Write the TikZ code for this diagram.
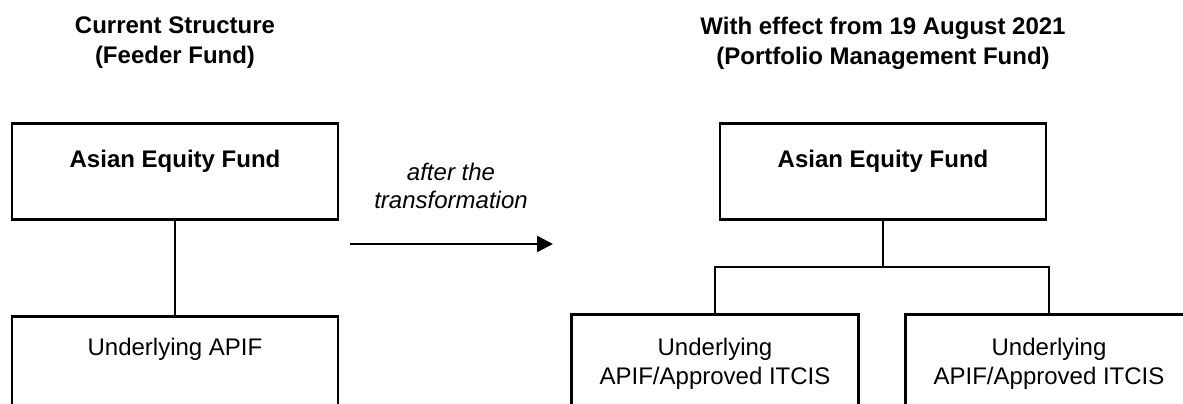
\documentclass[tikz,border=0pt]{standalone}
\usepackage{fontspec}
\setmainfont{Liberation Sans}
\usetikzlibrary{arrows.meta}
\begin{document}
\begin{tikzpicture}[x=1pt,y=-1pt,
  box/.style={draw, line width=2.6pt, inner sep=0pt, minimum width=326pt},
  lbl/.style={font=\fontsize{24}{29}\selectfont, align=center, inner sep=0pt},
  head/.style={font=\fontsize{24}{30}\selectfont\bfseries, align=center, inner sep=0pt},
  link/.style={line width=2.6pt},
  tiny/.style={inner sep=0pt, minimum size=0pt}]
\useasboundingbox (0,0) rectangle (1183,404);
\clip (0,0) rectangle (1183,404);

% column headings
\node[head, anchor=north] (hl) at (175,17) {Current Structure\\(Feeder Fund)};
\node[head, anchor=north] (hr) at (883,17) {With effect from 19 August 2021\\(Portfolio Management Fund)};

% current structure
\node[box, minimum height=96pt, anchor=north] (aefl) at (175,122) {};
\node[lbl, font=\fontsize{24}{29}\selectfont\bfseries, anchor=north] (aeflt) at (175,150) {Asian Equity Fund};
\node[box, minimum height=140pt, anchor=north] (apif) at (175,315) {};
\node[lbl, anchor=north] (apift) at (175,338) {Underlying APIF};
\draw[link] (aefl.south) -- (apif.north);

% transformation arrow
\node[lbl, font=\fontsize{24}{28}\selectfont\itshape, anchor=north] (note) at (451,163) {after the\\transformation};
\coordinate (a0) at (350,244);
\coordinate (a1) at (553,244);
\draw[link, line width=2.4pt, -{Triangle[length=16pt,width=16pt]}] (a0) -- (a1);

% portfolio management structure
\node[box, minimum height=96pt, anchor=north] (aefr) at (883,122) {};
\node[lbl, font=\fontsize{24}{29}\selectfont\bfseries, anchor=north] (aefrt) at (883,150) {Asian Equity Fund};
\node[box, minimum width=287pt, minimum height=140pt, anchor=north] (u1) at (715,313) {};
\node[lbl, anchor=north] (u1t) at (715,338) {Underlying\\APIF/Approved ITCIS};
\node[box, minimum width=287pt, minimum height=140pt, anchor=north] (u2) at (1049,313) {};
\node[lbl, anchor=north] (u2t) at (1049,338) {Underlying\\APIF/Approved ITCIS};
\coordinate (split) at (883,267);
\draw[link] (aefr.south) -- (split);
\draw[link] (u1.north) |- (split) -| (u2.north);
\end{tikzpicture}
\end{document}
